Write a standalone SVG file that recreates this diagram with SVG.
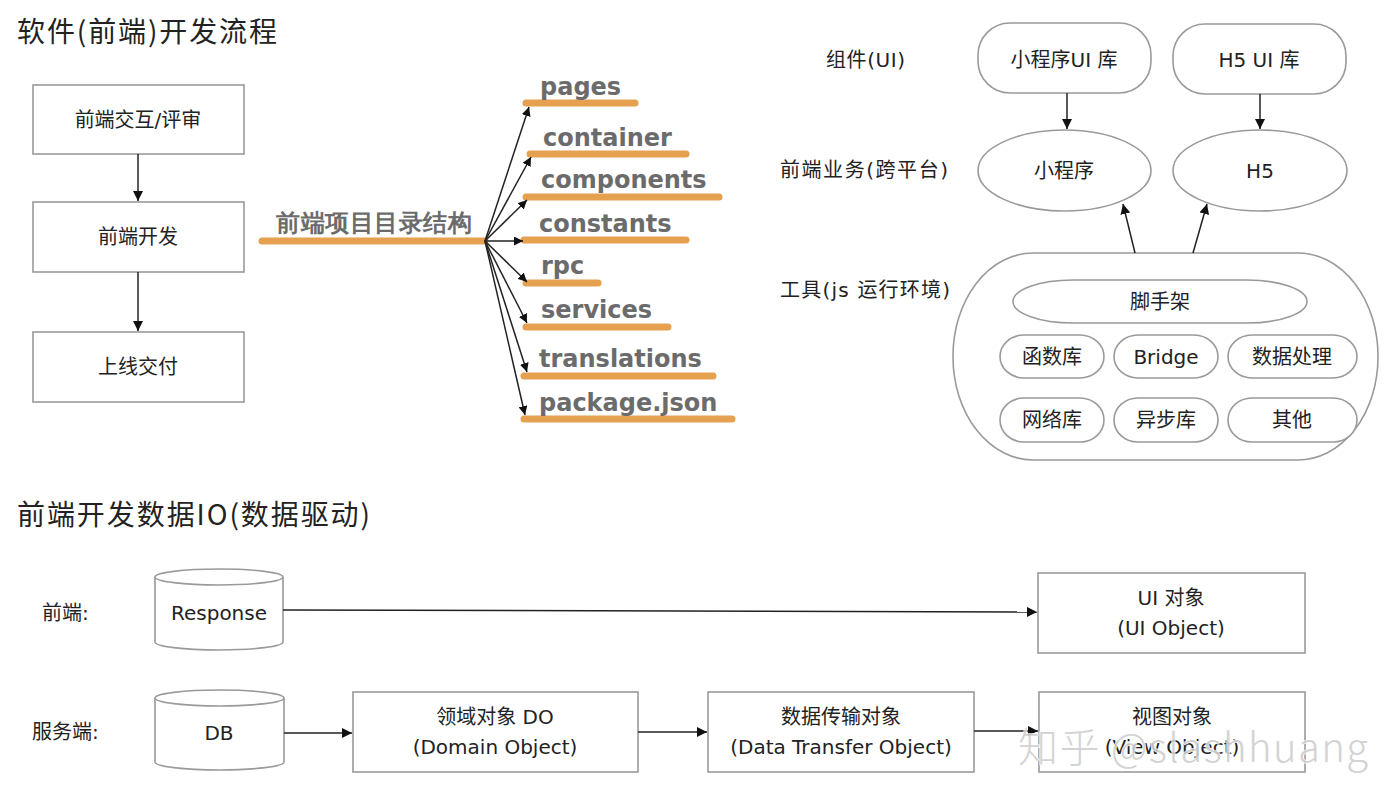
<svg xmlns="http://www.w3.org/2000/svg" width="1400" height="803" viewBox="0 0 1400 803">
<style>
  .t{font-family:"DejaVu Sans","Noto Sans CJK SC",sans-serif;font-size:20px;fill:#222;}
  .c{text-anchor:middle;dominant-baseline:central;}
  .title{font-family:"Noto Sans CJK SC",sans-serif;font-size:28px;fill:#222;}
  .lbl{font-family:"DejaVu Sans","Noto Sans CJK SC",sans-serif;font-size:20px;fill:#222;dominant-baseline:central;}
  .box{fill:#fff;stroke:#9a9a9a;stroke-width:1.6;}
  .edge{fill:none;stroke:#222;stroke-width:1.5;}
  .mm{font-family:"DejaVu Sans",sans-serif;font-weight:bold;font-size:24px;fill:#6b6b6b;}
  .ul{stroke:#E5A050;stroke-width:7;stroke-linecap:round;fill:none;}
  .wm{font-family:"Noto Sans CJK SC",sans-serif;font-weight:300;font-size:40px;fill:#cfcfcf;stroke:#fff;stroke-width:1.5;paint-order:stroke;opacity:0.9;}
</style>
<defs>
  <marker id="arr" viewBox="0 0 10 10" refX="10" refY="5" markerWidth="10" markerHeight="10" markerUnits="userSpaceOnUse" orient="auto">
    <path d="M0,0 L10,5 L0,10 z" fill="#111"/>
  </marker>
  <marker id="arrs" viewBox="0 0 10 10" refX="10" refY="5" markerWidth="9" markerHeight="9" markerUnits="userSpaceOnUse" orient="auto">
    <path d="M0,0 L10,5 L0,10 z" fill="#111"/>
  </marker>
</defs>
<rect width="1400" height="803" fill="#fff"/>

<!-- Titles -->
<text class="title" x="17" y="42" textLength="260" lengthAdjust="spacing">软件(前端)开发流程</text>
<text class="title" x="17" y="525" textLength="353" lengthAdjust="spacing">前端开发数据IO(数据驱动)</text>

<!-- Left flow -->
<g id="flow-review"><rect class="box" x="33" y="85" width="211" height="69"/><text class="t c" x="138" y="120">前端交互/评审</text></g>
<g id="flow-dev"><rect class="box" x="33" y="202" width="211" height="70"/><text class="t c" x="138" y="237">前端开发</text></g>
<g id="flow-deliver"><rect class="box" x="33" y="332" width="211" height="70"/><text class="t c" x="138" y="367">上线交付</text></g>

<!-- Mind map -->
<g id="mm-root">
  <line class="ul" x1="262" y1="241" x2="485" y2="241"/>
  <text class="mm" x="276" y="231" font-family="Noto Sans CJK SC" textLength="196" lengthAdjust="spacing">前端项目目录结构</text>
</g>
<g id="mm-pages"><line class="ul" x1="526" y1="103" x2="635" y2="103"/><text class="mm" x="540" y="95">pages</text></g>
<g id="mm-container"><line class="ul" x1="530" y1="154" x2="686" y2="154"/><text class="mm" x="543" y="146">container</text></g>
<g id="mm-components"><line class="ul" x1="526" y1="197" x2="719" y2="197"/><text class="mm" x="541" y="188">components</text></g>
<g id="mm-constants"><line class="ul" x1="524" y1="240" x2="686" y2="240"/><text class="mm" x="539" y="232">constants</text></g>
<g id="mm-rpc"><line class="ul" x1="526" y1="283" x2="598" y2="283"/><text class="mm" x="541" y="274">rpc</text></g>
<g id="mm-services"><line class="ul" x1="526" y1="327" x2="668" y2="327"/><text class="mm" x="541" y="318">services</text></g>
<g id="mm-translations"><line class="ul" x1="524" y1="376" x2="713" y2="376"/><text class="mm" x="539" y="367">translations</text></g>
<g id="mm-package"><line class="ul" x1="524" y1="419" x2="732" y2="419"/><text class="mm" x="539" y="411">package.json</text></g>

<!-- Right top labels -->
<text class="lbl" x="826" y="60" textLength="79" lengthAdjust="spacing">组件(UI)</text>
<text class="lbl" x="780" y="170" textLength="168" lengthAdjust="spacing">前端业务(跨平台)</text>
<text class="lbl" x="780" y="290" textLength="170" lengthAdjust="spacing">工具(js 运行环境)</text>

<g id="mp-ui"><rect class="box" x="978" y="23" width="173" height="70" rx="32" ry="32"/><text class="t c" x="1064" y="60">小程序UI 库</text></g>
<g id="h5-ui"><rect class="box" x="1173" y="24" width="173" height="70" rx="32" ry="32"/><text class="t c" x="1259" y="60">H5 UI 库</text></g>
<g id="mp"><ellipse class="box" cx="1064.5" cy="170.5" rx="86.5" ry="40.5"/><text class="t c" x="1064" y="171">小程序</text></g>
<g id="h5"><ellipse class="box" cx="1260" cy="170.5" rx="87" ry="40.5"/><text class="t c" x="1260" y="171">H5</text></g>

<g id="tools">
  <rect class="box" x="953" y="253" width="425" height="207" rx="80" ry="103"/>
</g>
<g id="scaffold"><rect class="box" x="1013" y="280" width="294" height="43" rx="60" ry="21.5"/><text class="t c" x="1160" y="302">脚手架</text></g>
<g id="funclib"><rect class="box" x="1000" y="335" width="104" height="43" rx="24" ry="21.5"/><text class="t c" x="1052" y="357">函数库</text></g>
<g id="bridge"><rect class="box" x="1114" y="335" width="104" height="43" rx="24" ry="21.5"/><text class="t c" x="1166" y="357">Bridge</text></g>
<g id="dataproc"><rect class="box" x="1228" y="335" width="129" height="43" rx="24" ry="21.5"/><text class="t c" x="1292" y="357">数据处理</text></g>
<g id="netlib"><rect class="box" x="1000" y="398" width="104" height="44" rx="24" ry="22"/><text class="t c" x="1052" y="420">网络库</text></g>
<g id="asynclib"><rect class="box" x="1114" y="398" width="104" height="44" rx="24" ry="22"/><text class="t c" x="1166" y="420">异步库</text></g>
<g id="other"><rect class="box" x="1228" y="398" width="129" height="44" rx="24" ry="22"/><text class="t c" x="1292" y="420">其他</text></g>

<!-- Bottom section -->
<text class="lbl" x="42" y="613">前端:</text>
<text class="lbl" x="32" y="732">服务端:</text>

<g id="response">
  <path class="box" d="M155,577 a64,8 0 0,1 128,0 v65 a64,8 0 0,1 -128,0 z"/>
  <path class="box" fill="none" d="M155,577 a64,8 0 0,0 128,0"/>
  <text class="t c" x="219" y="613">Response</text>
</g>
<g id="db">
  <path class="box" d="M155,698 a64.5,8 0 0,1 129,0 v64 a64.5,8 0 0,1 -129,0 z"/>
  <path class="box" fill="none" d="M155,698 a64.5,8 0 0,0 129,0"/>
  <text class="t c" x="219" y="733">DB</text>
</g>
<g id="ui-obj"><rect class="box" x="1038" y="573" width="267" height="80"/><text class="t c" x="1171" y="598">UI 对象</text><text class="t c" x="1171" y="628">(UI Object)</text></g>
<g id="do"><rect class="box" x="353" y="692" width="285" height="80"/><text class="t c" x="495" y="717">领域对象 DO</text><text class="t c" x="495" y="747">(Domain Object)</text></g>
<g id="dto"><rect class="box" x="708" y="692" width="266" height="80"/><text class="t c" x="841" y="717">数据传输对象</text><text class="t c" x="841" y="747">(Data Transfer Object)</text></g>
<g id="vo"><rect class="box" x="1039" y="692" width="266" height="80"/><text class="t c" x="1172" y="717">视图对象</text><text class="t c" x="1172" y="747">(View Object)</text></g>

<!-- Connectors -->
<g id="connectors">
  <line class="edge" x1="138" y1="154" x2="138" y2="201" marker-end="url(#arr)"/>
  <line class="edge" x1="138" y1="272" x2="138" y2="331" marker-end="url(#arr)"/>

  <line class="edge" x1="485" y1="241" x2="529" y2="107" marker-end="url(#arrs)"/>
  <line class="edge" x1="485" y1="241" x2="531" y2="157" marker-end="url(#arrs)"/>
  <line class="edge" x1="485" y1="241" x2="527" y2="200" marker-end="url(#arrs)"/>
  <line class="edge" x1="485" y1="241" x2="523" y2="241" marker-end="url(#arrs)"/>
  <line class="edge" x1="485" y1="241" x2="527" y2="282" marker-end="url(#arrs)"/>
  <line class="edge" x1="485" y1="241" x2="527" y2="323" marker-end="url(#arrs)"/>
  <line class="edge" x1="485" y1="241" x2="527" y2="372" marker-end="url(#arrs)"/>
  <line class="edge" x1="485" y1="241" x2="525" y2="415" marker-end="url(#arrs)"/>

  <line class="edge" x1="1067" y1="93" x2="1067" y2="129" marker-end="url(#arr)"/>
  <line class="edge" x1="1260" y1="94" x2="1260" y2="129" marker-end="url(#arr)"/>
  <line class="edge" x1="1135" y1="253" x2="1123" y2="204" marker-end="url(#arr)"/>
  <line class="edge" x1="1193" y1="253" x2="1207" y2="204" marker-end="url(#arr)"/>

  <line class="edge" x1="283" y1="610" x2="1037" y2="612" marker-end="url(#arr)"/>
  <line class="edge" x1="284" y1="733" x2="352" y2="733" marker-end="url(#arr)"/>
  <line class="edge" x1="638" y1="732" x2="707" y2="732" marker-end="url(#arr)"/>
  <line class="edge" x1="974" y1="731" x2="1038" y2="731" marker-end="url(#arr)"/>
</g>

<!-- Watermark (overlaps the View Object box in the reference too) -->
<text class="wm" x="1018" y="762" textLength="350" lengthAdjust="spacing">知乎 @slashhuang</text>
</svg>
